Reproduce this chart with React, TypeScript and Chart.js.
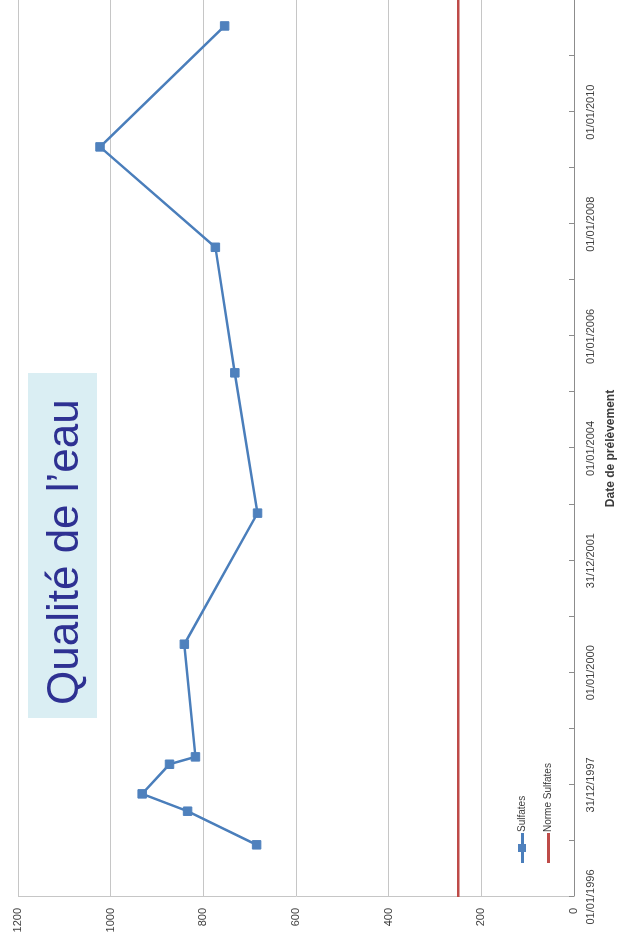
import React, { useEffect, useRef } from 'react';
import { Chart, registerables } from 'chart.js';

Chart.register(...registerables);

// Sample dates (YYYY-MM-DD) and sulfate concentrations (mg/l)
const sampleDates = [
  '1996-12-06', '1997-07-13', '1997-11-03', '1998-05-15', '1998-07-02',
  '2000-07-05', '2002-11-06', '2005-05-08', '2007-08-04', '2009-05-19', '2011-07-16',
];
const sulfates = [685, 834, 932, 873, 817, 841, 683, 732, 774, 1023, 754];

// Norm line
const normeDates = ['1996-01-01', '2012-01-01'];
const normeSulfates = [250, 250];

// Date axis labels (one every two yearly ticks)
const dateTickLabels = [
  '01/01/1996', '31/12/1997', '01/01/2000', '31/12/2001',
  '01/01/2004', '01/01/2006', '01/01/2008', '01/01/2010',
];

const seriesNames = ['Sulfates', 'Norme Sulfates'];
const overlayTitle = 'Qualité de l’eau';
const xTitle = 'Date de prélèvement';

const BLUE_LINE = '#4A7EBB';
const BLUE = '#4F81BD';
const RED = '#BE4B48';
const TEXT = '#3c3c3c';
const GRID = '#c6c6c6';
const AXIS = '#8c8c8c';
const FONT = "'Liberation Sans', Arial, sans-serif";

function yearsSince1996(s: string): number {
  const [y, m, d] = s.split('-').map(Number);
  return (Date.UTC(y, m - 1, d) - Date.UTC(1996, 0, 1)) / (365.25 * 86400000);
}

export default function App() {
  const ref = useRef<HTMLCanvasElement>(null);

  useEffect(() => {
    document.body.style.overflow = 'hidden';
    const insideTicks = {
      id: 'insideTicks',
      afterDraw(chart: any) {
        const xs = chart.scales.x;
        const ctx = chart.ctx;
        const b = chart.chartArea.bottom;
        ctx.save();
        ctx.strokeStyle = AXIS;
        ctx.lineWidth = 1;
        xs.ticks.forEach((t: any) => {
          const px = Math.round(xs.getPixelForValue(t.value)) + 0.5;
          ctx.beginPath();
          ctx.moveTo(px, b);
          ctx.lineTo(px, b - 5);
          ctx.stroke();
        });
        ctx.restore();
      },
    };

    const chart = new Chart(ref.current as HTMLCanvasElement, {
      type: 'line',
      data: {
        datasets: [
          {
            label: seriesNames[0],
            data: sampleDates.map((d, i) => ({ x: yearsSince1996(d), y: sulfates[i] })),
            borderColor: BLUE_LINE,
            backgroundColor: BLUE,
            borderWidth: 2.5,
            pointStyle: 'rect',
            pointRadius: 6,
            pointBorderWidth: 1,
            pointBorderColor: BLUE,
            pointBackgroundColor: BLUE,
            tension: 0,
          },
          {
            label: seriesNames[1],
            data: normeDates.map((d, i) => ({ x: yearsSince1996(d), y: normeSulfates[i] })),
            borderColor: RED,
            borderWidth: 2.5,
            pointRadius: 0,
            tension: 0,
          },
        ],
      },
      options: {
        animation: false,
        responsive: false,
        devicePixelRatio: 1,
        layout: { autoPadding: false, padding: { top: 18, left: 0, right: 0, bottom: 0 } },
        plugins: { legend: { display: false }, tooltip: { enabled: false } },
        scales: {
          x: {
            type: 'linear',
            min: 0,
            max: 16,
            afterFit: (s: any) => { s.height = 46; s.paddingLeft = 0; s.paddingRight = 0; },
            grid: { drawOnChartArea: false, drawTicks: false },
            border: { color: AXIS, width: 1 },
            ticks: {
              stepSize: 1,
              autoSkip: false,
              maxRotation: 0,
              minRotation: 0,
              padding: 10,
              color: TEXT,
              font: { family: FONT, size: 11 },
              callback: (v: any) => {
                const n = Number(v);
                return n % 2 === 0 && n / 2 < dateTickLabels.length ? dateTickLabels[n / 2] : '';
              },
            },
            title: {
              display: true,
              text: xTitle,
              color: TEXT,
              font: { family: FONT, size: 12, weight: 'bold' },
              padding: { top: 0, bottom: 2 },
            },
          },
          y: {
            min: 0,
            max: 1200,
            afterFit: (s: any) => { s.width = 49; },
            grid: { color: GRID, drawTicks: false },
            border: { color: GRID },
            ticks: {
              stepSize: 200,
              padding: 11,
              color: TEXT,
              font: { family: FONT, size: 11 },
              callback: (v: any) => String(v),
            },
          },
        },
      },
      plugins: [insideTicks],
    } as any);
    return () => chart.destroy();
  }, []);

  const legendText: React.CSSProperties = {
    position: 'absolute',
    fontFamily: FONT,
    fontSize: 10,
    color: TEXT,
    lineHeight: '12px',
    whiteSpace: 'nowrap',
  };

  return (
    <div
      style={{
        position: 'absolute',
        left: 0,
        top: 0,
        width: 946,
        height: 620,
        background: '#fff',
        transformOrigin: '0 0',
        transform: 'translateY(946px) rotate(-90deg)',
      }}
    >
      <canvas ref={ref} width={946} height={620} style={{ display: 'block' }} />
      {/* Legend */}
      <div style={{ position: 'absolute', left: 83, top: 521, width: 30, height: 2.5, background: BLUE_LINE }} />
      <div style={{ position: 'absolute', left: 94, top: 518, width: 8, height: 8, background: BLUE }} />
      <div style={{ ...legendText, left: 114, top: 516 }}>{seriesNames[0]}</div>
      <div style={{ position: 'absolute', left: 83, top: 547, width: 30, height: 2.5, background: RED }} />
      <div style={{ ...legendText, left: 114, top: 542 }}>{seriesNames[1]}</div>
      {/* Overlay title box */}
      <div
        style={{
          position: 'absolute',
          left: 228,
          top: 28,
          width: 345,
          height: 69,
          boxSizing: 'border-box',
          paddingLeft: 13,
          background: '#DAEEF3',
          color: '#2E3192',
          fontFamily: FONT,
          fontSize: 44,
          lineHeight: '69px',
          whiteSpace: 'nowrap',
        }}
      >
        {overlayTitle}
      </div>
    </div>
  );
}
